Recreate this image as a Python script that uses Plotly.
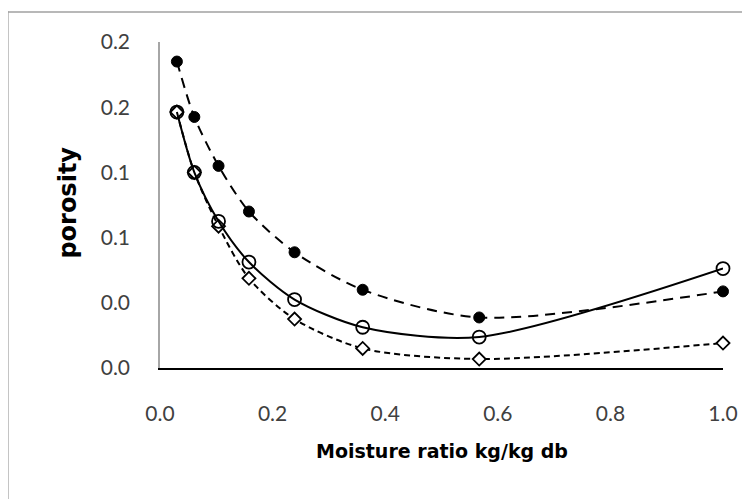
import plotly.graph_objects as go

moisture = [0.03, 0.061, 0.104, 0.158, 0.239, 0.36, 0.567, 1.0]
porosity_filled = [0.188, 0.154, 0.124, 0.096, 0.071, 0.048, 0.031, 0.047]
porosity_open = [0.157, 0.120, 0.090, 0.065, 0.042, 0.025, 0.019, 0.061]
porosity_diamond = [0.157, 0.120, 0.087, 0.055, 0.030, 0.012, 0.0055, 0.0153]

x_ticks = [0.0, 0.2, 0.4, 0.6, 0.8, 1.0]
y_ticks = [0.0, 0.04, 0.08, 0.12, 0.16, 0.2]

fig = go.Figure()

fig.add_trace(go.Scatter(
    x=moisture, y=porosity_filled, mode="lines+markers",
    line=dict(color="black", width=2, dash="10px,7px", shape="spline", smoothing=0.8),
    marker=dict(symbol="circle", size=11, color="black", line=dict(color="black", width=1)),
    cliponaxis=False, showlegend=False))

fig.add_trace(go.Scatter(
    x=moisture, y=porosity_diamond, mode="lines+markers",
    line=dict(color="black", width=2, dash="6px,4px", shape="spline", smoothing=0.8),
    marker=dict(symbol="diamond", size=10, color="white", line=dict(color="black", width=1.8)),
    cliponaxis=False, showlegend=False))

fig.add_trace(go.Scatter(
    x=moisture, y=porosity_open, mode="lines+markers",
    line=dict(color="black", width=2, shape="spline", smoothing=0.8),
    marker=dict(symbol="circle-open", size=13, color="black", line=dict(color="black", width=1.8)),
    cliponaxis=False, showlegend=False))

tick_font = dict(family="Lato, Open Sans, sans-serif", size=21, color="#404040")
title_font = dict(family="DejaVu Sans, sans-serif", size=19, color="black", weight="bold")

fig.update_layout(
    width=742, height=491,
    margin=dict(l=152, r=25, t=34, b=131),
    paper_bgcolor="white", plot_bgcolor="white",
    xaxis=dict(range=[0, 1.0], tickvals=x_ticks, tickformat=".1f",
               showgrid=False, zeroline=False, showline=True,
               linecolor="black", linewidth=2, ticks="",
               tickfont=tick_font, ticklabelstandoff=26),
    yaxis=dict(range=[0, 0.2], tickvals=y_ticks, tickformat=".1f",
               showgrid=False, zeroline=False, showline=True,
               linecolor="#a6a6a6", linewidth=1.5, ticks="",
               tickfont=tick_font, ticklabelstandoff=24),
    annotations=[
        dict(text="Moisture ratio kg/kg db", x=0.501, y=-0.255, xref="paper", yref="paper",
             showarrow=False, font=title_font, xanchor="center", yanchor="middle"),
        dict(text="porosity", x=-0.163, y=0.508, xref="paper", yref="paper",
             showarrow=False, font=dict(title_font, size=24), textangle=-90,
             xanchor="center", yanchor="middle"),
    ],
    shapes=[
        dict(type="line", xref="paper", yref="paper", x0=-0.273, x1=1.06, y0=1.092, y1=1.092,
             line=dict(color="#a0a0a0", width=1.5)),
        dict(type="line", xref="paper", yref="paper", x0=-0.2711, x1=-0.2711, y0=1.094, y1=-0.41,
             line=dict(color="#a0a0a0", width=2.5)),
    ],
)

fig.write_html("out.html")
